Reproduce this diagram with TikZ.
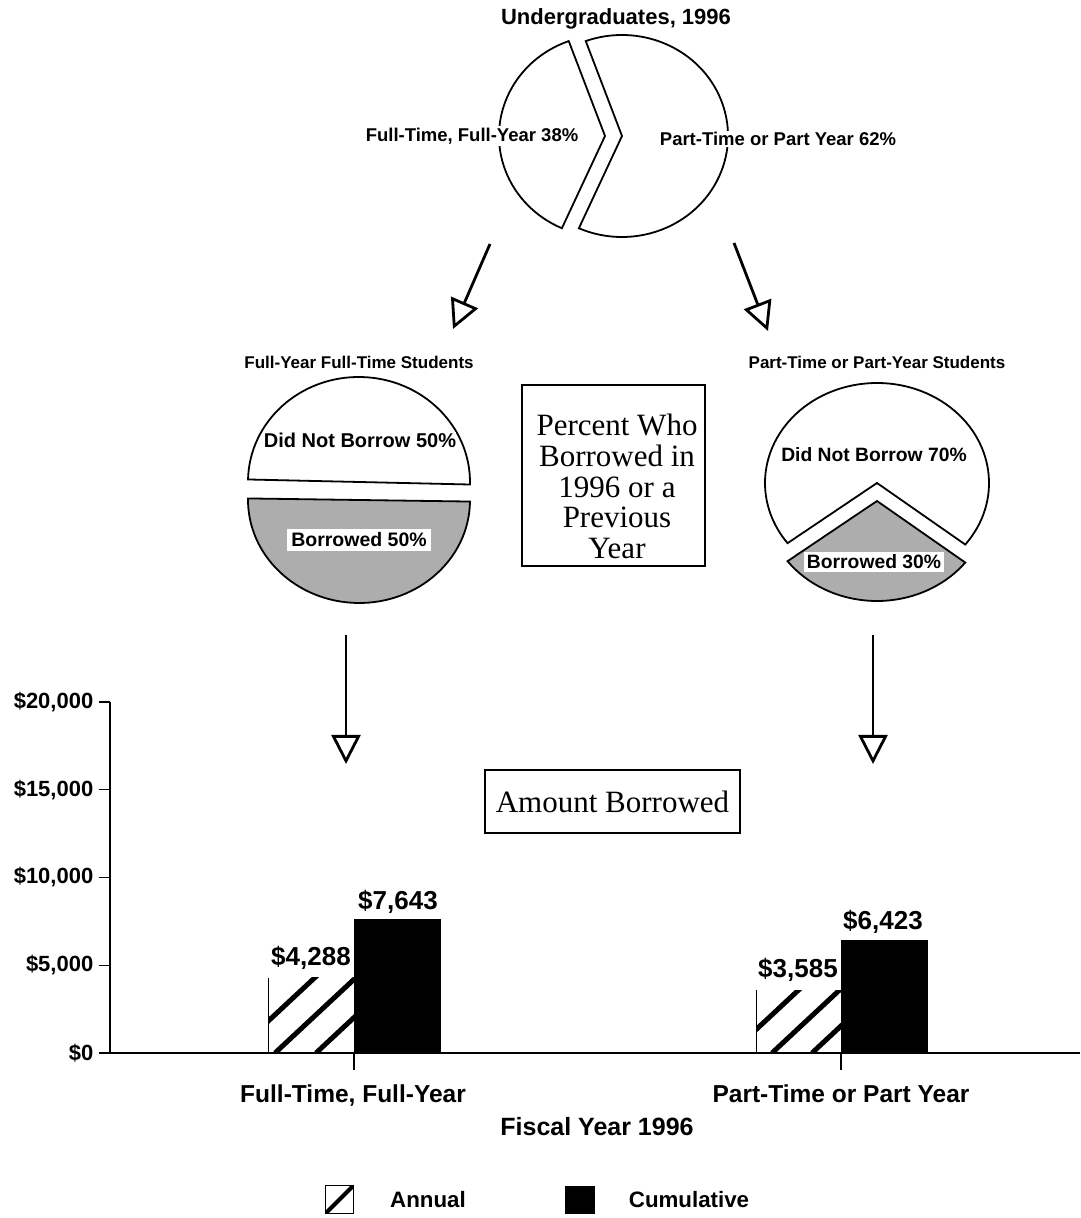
\documentclass[tikz,border=0pt]{standalone}
\usepackage{fontspec}
\setmainfont{Liberation Sans}
\newfontfamily\serifbox{Liberation Serif}
\usetikzlibrary{arrows.meta,calc}
\tikzset{
  pie/.style={draw=black, line width=1.8pt, line join=miter},
  shade/.style={fill=black!32},
  arr/.style={line width=2.8pt, -{Triangle[open, length=29pt, width=29pt]}},
  fs/.style={font=\fontsize{#1}{#1}\selectfont\bfseries, inner sep=1.5pt},
  wlab/.style={fill=white},
  boxed/.style={draw=black, line width=1.6pt},
}
\begin{document}
\begin{tikzpicture}[x=1pt,y=1pt]
\useasboundingbox (0,0) rectangle (1080,1218);

% ---------- top pie ----------
\node[fs=22] (title) at (616,1199) {Undergraduates, 1996};
\draw[pie, fill=white] (605,1082) -- ++(110:106pt and 101pt)
  arc[start angle=110, end angle=246, x radius=106pt, y radius=101pt] -- cycle;
\draw[pie, fill=white] (622,1082) -- ++(-114:106pt and 101pt)
  arc[start angle=-114, end angle=110, x radius=106pt, y radius=101pt] -- cycle;
\node[fs=18.5, wlab] (l38) at (472,1082) {Full-Time, Full-Year 38\%};
\node[fs=18.5, wlab] (l62) at (778,1079) {Part-Time or Part Year 62\%};

% arrows from top pie
\coordinate (a1s) at (490,974);
\coordinate (a1e) at (453,889);
\coordinate (a2s) at (734,975);
\coordinate (a2e) at (768,887);
\draw[arr] (a1s) -- (a1e);
\draw[arr] (a2s) -- (a2e);

% ---------- middle left pie ----------
\node[fs=17] (tl) at (359,856) {Full-Year Full-Time Students};
\draw[pie, fill=white, rotate around={-1.3:(359,736)}] (248,736)
  arc[start angle=180, end angle=0, x radius=111pt, y radius=105pt] -- cycle;
\draw[pie, shade, rotate around={-0.8:(359,718)}] (248,718)
  arc[start angle=180, end angle=360, x radius=111pt, y radius=103pt] -- cycle;
\node[fs=20, wlab, inner sep=0.3pt] (dnb50) at (360,778) {Did Not Borrow 50\%};
\node[fs=19.5, wlab, inner sep=4pt] (b50) at (359,678) {Borrowed 50\%};

% ---------- centre box ----------
\node[boxed, minimum width=183pt, minimum height=181pt, inner sep=0pt] (pbox) at (613.5,742.5) {};
\node[align=center, font=\serifbox\fontsize{31}{30.7}\selectfont] (ptxt) at (617,731.5)
  {Percent Who\\Borrowed in\\1996 or a\\Previous\\Year};

% ---------- middle right pie ----------
\node[fs=17] (tr) at (877,856) {Part-Time or Part-Year Students};
\draw[pie, fill=white] (877,735) -- ++(-38:112pt and 100pt)
  arc[start angle=-38, end angle=217, x radius=112pt, y radius=100pt] -- cycle;
\draw[pie, shade] (877,717) -- ++(217:112pt and 100pt)
  arc[start angle=217, end angle=322, x radius=112pt, y radius=100pt] -- cycle;
\node[fs=19.3, wlab] (dnb70) at (874,763) {Did Not Borrow 70\%};
\node[fs=19.3, wlab, inner sep=3pt] (b30) at (874,656) {Borrowed 30\%};

% down arrows
\coordinate (d1s) at (346,583);
\coordinate (d1e) at (346,454);
\coordinate (d2s) at (873,583);
\coordinate (d2e) at (873,454);
\draw[arr] (d1s) -- (d1e);
\draw[arr] (d2s) -- (d2e);

% amount borrowed box
\node[boxed, minimum width=255pt, minimum height=63pt, inner sep=0pt,
  font=\serifbox\fontsize{31}{31}\selectfont] (abox) at (612.5,416.5) {Amount Borrowed};

% ---------- bar chart ----------
\draw[line width=1.6pt] (110,516) -- (110,165) -- (1080,165);
\foreach \yy/\t in {165/{\$0}, 252.75/{\$5,000}, 340.5/{\$10,000}, 428.25/{\$15,000}, 516/{\$20,000}}{
  \draw[line width=1.4pt] (99,\yy) -- (110,\yy);
  \node[fs=22, anchor=east] at (95,\yy) {\t};
}
\draw[line width=1.4pt] (354,165) -- (354,148);
\draw[line width=1.4pt] (841,165) -- (841,148);

% left group
\begin{scope}
  \clip (268,165) rectangle (354,240.3);
  \foreach \x in {234,275,316} \draw[line width=5pt] (\x,165) -- ++(43:170pt);
\end{scope}
\draw[line width=1pt] (268,165) -- (268,240.3);
\fill (354,165) rectangle (441,299.1);
\node[fs=26] (v1) at (311,260) {\$4,288};
\node[fs=26] (v2) at (398,316) {\$7,643};

% right group
\begin{scope}
  \clip (756,165) rectangle (841,227.9);
  \foreach \x in {731,772,812} \draw[line width=5pt] (\x,165) -- ++(43:170pt);
\end{scope}
\draw[line width=1pt] (756,165) -- (756,227.9);
\fill (841,165) rectangle (928,277.7);
\node[fs=26] (v3) at (798,248) {\$3,585};
\node[fs=26] (v4) at (883,296) {\$6,423};

\node[fs=24.5, anchor=base] (c1) at (353,115) {Full-Time, Full-Year};
\node[fs=24.5, anchor=base] (c2) at (841,115) {Part-Time or Part Year};
\node[fs=25, anchor=base] (fy) at (597,82) {Fiscal Year 1996};

% legend
\begin{scope}
  \clip (325,4) rectangle (353,32);
  \draw[line width=4pt] (325,4) -- (353,32);
\end{scope}
\draw[line width=1pt] (325,4) rectangle (353,32);
\node[fs=22.3, anchor=base] (lga) at (428,10) {Annual};
\fill (565,4) rectangle (595,32);
\node[fs=22.3, anchor=base] (lgc) at (689,10) {Cumulative};
\end{tikzpicture}
\end{document}
